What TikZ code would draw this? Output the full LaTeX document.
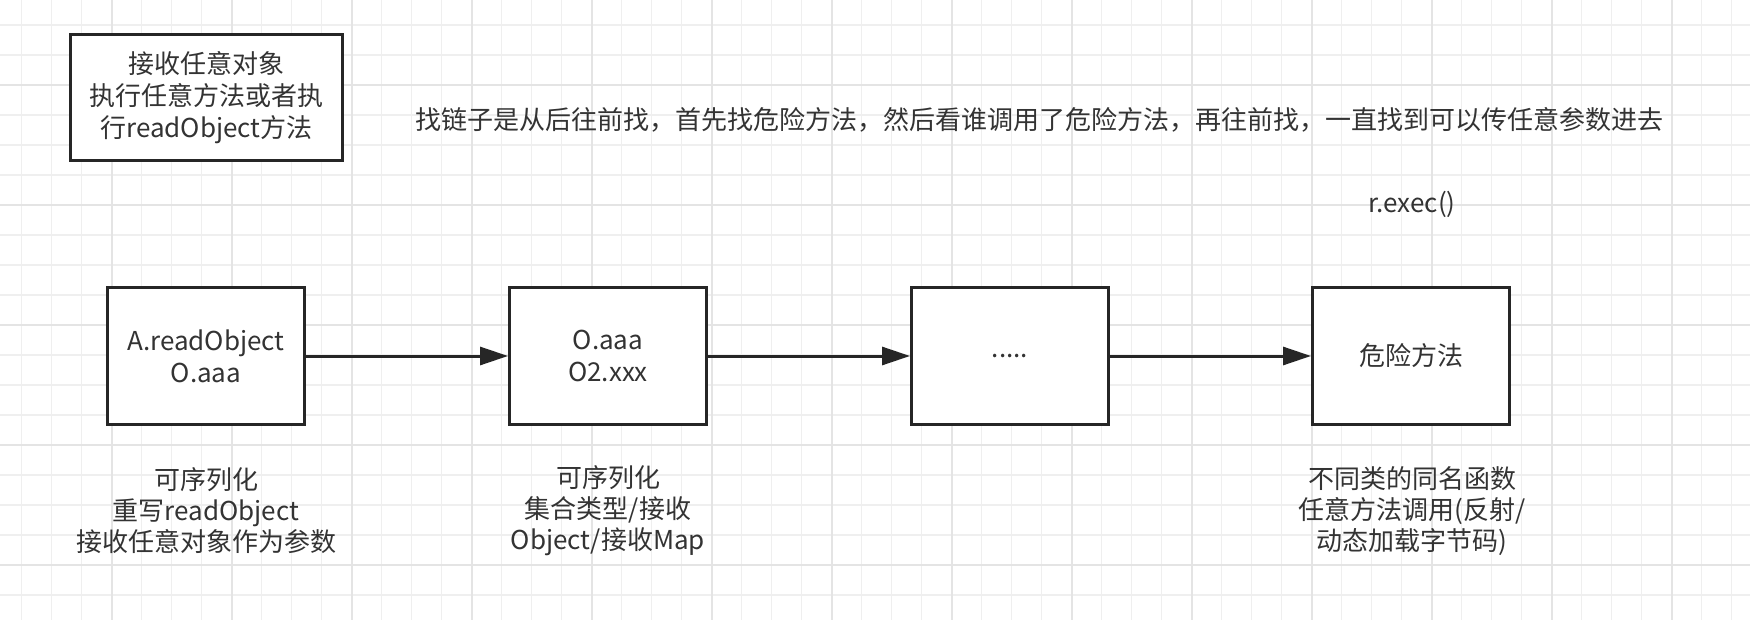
\documentclass[tikz,border=0pt]{standalone}
\usepackage{fontspec}
\setmainfont{Noto Sans CJK SC}
\usepackage{tikz}
\usetikzlibrary{arrows.meta,positioning}
\usepackage{xcolor}
\definecolor{inkdark}{HTML}{262626}
\definecolor{txtdark}{HTML}{333333}
\definecolor{gridminor}{HTML}{EFEFEF}
\definecolor{gridmajor}{HTML}{E4E4E4}

\begin{document}
\begin{tikzpicture}[
    x=1pt, y=-1pt,
    chainbox/.style={
        rectangle, draw=inkdark, line width=3pt, fill=white,
        minimum width=197pt, minimum height=137pt,
        align=center, text=txtdark,
        font=\fontsize{26}{32}\selectfont
    },
    notebox/.style={
        rectangle, draw=inkdark, line width=3pt, fill=white,
        minimum width=272pt, minimum height=126pt,
        align=center, text=txtdark,
        font=\fontsize{26}{32}\selectfont
    },
    remark/.style={align=center, text=txtdark, font=\fontsize{26}{31}\selectfont},
    callarrow/.style={-{Triangle[length=28pt,width=18pt]}, line width=3pt, draw=inkdark}
]
\useasboundingbox (0,0) rectangle (1750,620);
\fill[white] (0,0) rectangle (1750,620);

% 背景网格
\foreach \gx in {21.7,51.7,...,1750} {
    \draw[gridminor, line width=1.2pt] (\gx,0) -- (\gx,620);
}
\foreach \gy in {25,55,...,620} {
    \draw[gridminor, line width=1.2pt] (0,\gy) -- (1750,\gy);
}
\foreach \gx in {111.7,231.7,...,1750} {
    \draw[gridmajor, line width=1.6pt] (\gx,0) -- (\gx,620);
}
\foreach \gy in {85,205,...,620} {
    \draw[gridmajor, line width=1.6pt] (0,\gy) -- (1750,\gy);
}

% 说明框
\node[notebox] (goal) at (206.5, 97.5) {接收任意对象\\执行任意方法或者执\\行readObject方法};

% 说明文字
\node[remark] (howto) at (1039, 120) {找链子是从后往前找，首先找危险方法，然后看谁调用了危险方法，再往前找，一直找到可以传任意参数进去};
\node[remark] (execcall) at (1412, 204) {r.exec()};

% 调用链节点
\node[chainbox] (entry) at (206, 356) {A.readObject\\O.aaa};
\node[chainbox] (middle) at (608, 356) {O.aaa\\O2.xxx};
\node[chainbox] (more) at (1010, 356) {.....};
\node[chainbox] (sink) at (1411, 356) {危险方法};

% 调用箭头
\draw[callarrow] (entry) -- (middle);
\draw[callarrow] (middle) -- (more);
\draw[callarrow] (more) -- (sink);

% 节点下方的条件
\node[remark] (entrynote) at (206, 511) {可序列化\\重写readObject\\接收任意对象作为参数};
\node[remark] (middlenote) at (608, 511) {可序列化\\集合类型/接收\\Object/接收Map};
\node[remark] (sinknote) at (1412, 511) {不同类的同名函数\\任意方法调用(反射/\\动态加载字节码)};

\end{tikzpicture}
\end{document}
